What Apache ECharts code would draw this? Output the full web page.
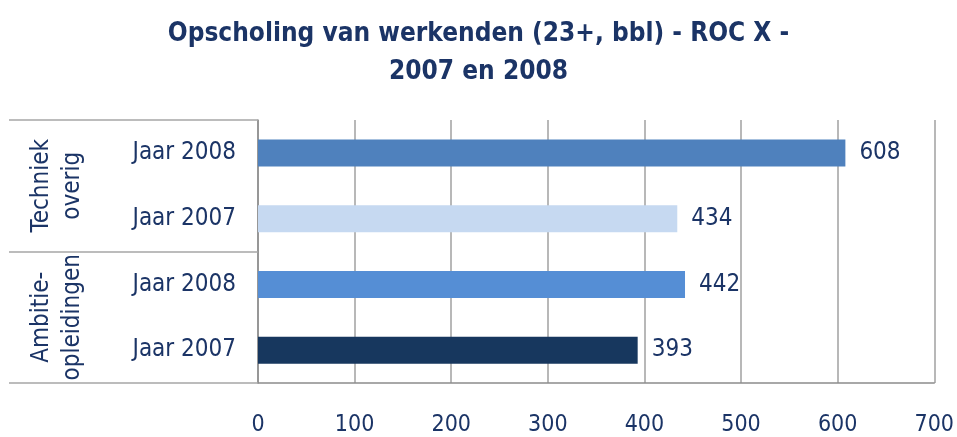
<!DOCTYPE html>
<html>
<head>
<meta charset="utf-8">
<script src="https://cdn.jsdelivr.net/npm/echarts@6/dist/echarts.min.js"></script>
<style>
  html, body { margin: 0; padding: 0; background: #fff; }
  #chart { width: 957px; height: 437px; }
</style>
</head>
<body>
<div id="chart"></div>
<script>
// opscholing werkenden, van boven naar beneden
var categories = ['Jaar 2008', 'Jaar 2007', 'Jaar 2008', 'Jaar 2007'];
var groups = ['Techniek\noverig', 'Ambitie-\nopleidingen'];
var values = [608, 434, 442, 393];
var barColors = ['#4F81BD', '#C6D9F1', '#558ED5', '#17375E'];

var navy = '#1B3466';
var font = '"Liberation Sans Narrow", "DejaVu Sans Condensed", "Liberation Sans", sans-serif';

var chart = echarts.init(document.getElementById('chart'));
var option = {
    backgroundColor: '#fff',
    animation: false,
    title: {
        text: 'Opscholing van werkenden (23+, bbl) - ROC X -\n2007 en 2008',
        left: 'center',
        top: 10,
        textStyle: {
            color: navy,
            fontFamily: font,
            fontWeight: 'bold',
            fontSize: 26,
            lineHeight: 38
        }
    },
    grid: {
        left: 258,
        right: 21,
        top: 120,
        bottom: 53
    },
    xAxis: {
        type: 'value',
        min: 0,
        max: 700,
        interval: 100,
        axisLine: { show: true, lineStyle: { color: '#8c8c8c', width: 1.5 } },
        axisTick: { show: false },
        axisLabel: { color: navy, fontFamily: font, fontSize: 23, margin: 31 },
        splitLine: { show: true, lineStyle: { color: '#a0a0a0', width: 1.5 } }
    },
    yAxis: [
        {
            type: 'category',
            inverse: true,
            data: categories,
            axisLine: { show: true, lineStyle: { color: '#8c8c8c', width: 1.5 } },
            axisTick: { show: false },
            axisLabel: { interval: 0, color: navy, fontFamily: font, fontSize: 24, margin: 22 }
        },
        {
            type: 'category',
            inverse: true,
            position: 'left',
            data: groups,
            axisLine: { show: false },
            axisTick: { show: true, interval: 0, length: 249, lineStyle: { color: '#a6a6a6', width: 1.5 } },
            axisLabel: {
                interval: 0,
                rotate: 90,
                margin: 170,
                align: 'center',
                color: navy,
                fontFamily: font,
                fontSize: 24,
                lineHeight: 31
            }
        }
    ],
    series: [
        {
            type: 'bar',
            yAxisIndex: 0,
            barWidth: 27,
            data: values.map(function (v, i) {
                return { value: v, itemStyle: { color: barColors[i] } };
            }),
            label: {
                show: true,
                position: 'right',
                distance: 14,
                color: navy,
                fontFamily: font,
                fontSize: 24
            }
        }
    ]
};
chart.setOption(option);
</script>
</body>
</html>
